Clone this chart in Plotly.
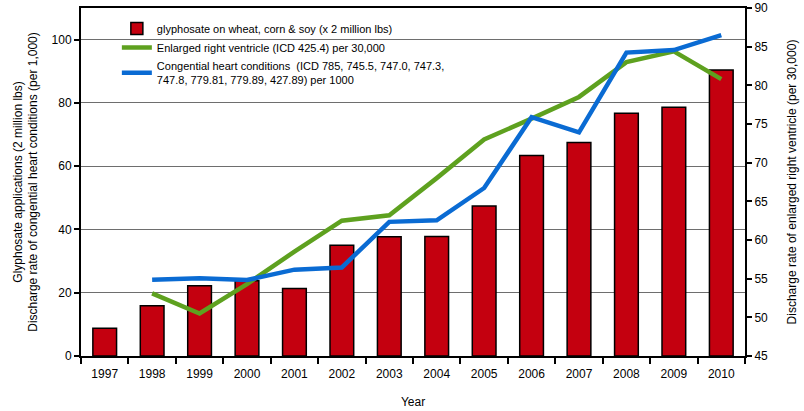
import plotly.graph_objects as go

years = ["1997", "1998", "1999", "2000", "2001", "2002", "2003", "2004",
         "2005", "2006", "2007", "2008", "2009", "2010"]
glyphosate = [8.8, 15.9, 22.2, 23.8, 21.3, 35.0, 37.7, 37.8,
              47.4, 63.4, 67.5, 76.7, 78.6, 90.4]
line_years = years[1:]
enlarged_rv = [53.1, 50.5, 54.3, 58.5, 62.5, 63.2, 68.0,
               73.0, 75.7, 78.5, 83.0, 84.4, 80.8]
congenital = [24.1, 24.6, 24.0, 27.3, 28.0, 42.4, 42.9,
              53.1, 75.5, 70.7, 95.9, 96.7, 101.4]

left_ticks = [0, 20, 40, 60, 80, 100]
right_ticks = [45, 50, 55, 60, 65, 70, 75, 80, 85, 90]

FONT = "Liberation Sans, Arial, sans-serif"

fig = go.Figure()
fig.add_trace(go.Bar(
    x=years, y=glyphosate,
    name="glyphosate on wheat, corn & soy (x 2 million lbs)",
    marker=dict(color="#c4000f", line=dict(color="#000000", width=1.5)),
    width=0.5, yaxis="y",
))
fig.add_trace(go.Scatter(
    x=line_years, y=enlarged_rv, mode="lines",
    name="Enlarged right ventricle (ICD 425.4) per 30,000",
    line=dict(color="#5ea11f", width=4.5), yaxis="y2",
))
fig.add_trace(go.Scatter(
    x=line_years, y=congenital, mode="lines",
    name="Congential heart conditions  (ICD 785, 745.5, 747.0, 747.3,<br>747.8, 779.81, 779.89, 427.89) per 1000",
    line=dict(color="#0a6bd3", width=4.5), yaxis="y3",
))

fig.update_layout(
    width=804, height=411,
    margin=dict(l=81, r=59, t=8, b=55),
    paper_bgcolor="white", plot_bgcolor="white",
    font=dict(family=FONT, size=12, color="#000000"),
    showlegend=True, hovermode=False,
    legend=dict(
        x=0.054, y=0.983, xanchor="left", yanchor="top",
        bgcolor="rgba(0,0,0,0)", font=dict(size=11, family=FONT),
        tracegroupgap=0, itemwidth=30,
    ),
    xaxis=dict(
        type="category", range=[-0.5, 13.5], automargin=False,
        tickson="boundaries", ticks="outside", ticklen=6, tickwidth=1.5,
        tickcolor="#000", showline=True, linecolor="#000", linewidth=2,
        mirror=True, showgrid=False, ticklabelstandoff=6,
        title=dict(text="Year", font=dict(size=12), standoff=17),
        tickfont=dict(size=12),
    ),
    yaxis=dict(
        range=[0, 110], tickvals=left_ticks, ticks="outside", ticklen=5,
        tickwidth=1.5, tickcolor="#000", showline=True, linecolor="#000",
        linewidth=2, showgrid=True, gridcolor="#6e6e6e", gridwidth=1,
        zeroline=False, automargin=False,
        title=dict(text="Glyphosate applications (2 million lbs)<br>Discharge rate of congential heart conditions (per 1,000)",
                   font=dict(size=12), standoff=11),
        tickfont=dict(size=12),
    ),
    yaxis2=dict(
        range=[45, 90], tickvals=right_ticks, overlaying="y", side="right",
        ticks="outside", ticklen=5, tickwidth=1.5, tickcolor="#000",
        showline=True, linecolor="#000", linewidth=2, showgrid=False,
        zeroline=False, automargin=False,
        title=dict(text="Discharge rate of enlarged right ventricle (per 30,000)",
                   font=dict(size=12), standoff=21),
        tickfont=dict(size=12),
    ),
    yaxis3=dict(range=[0, 110], overlaying="y", visible=False),
)

fig.write_html("out.html", config={"displayModeBar": False},
               post_script="document.body.style.margin='0';")
